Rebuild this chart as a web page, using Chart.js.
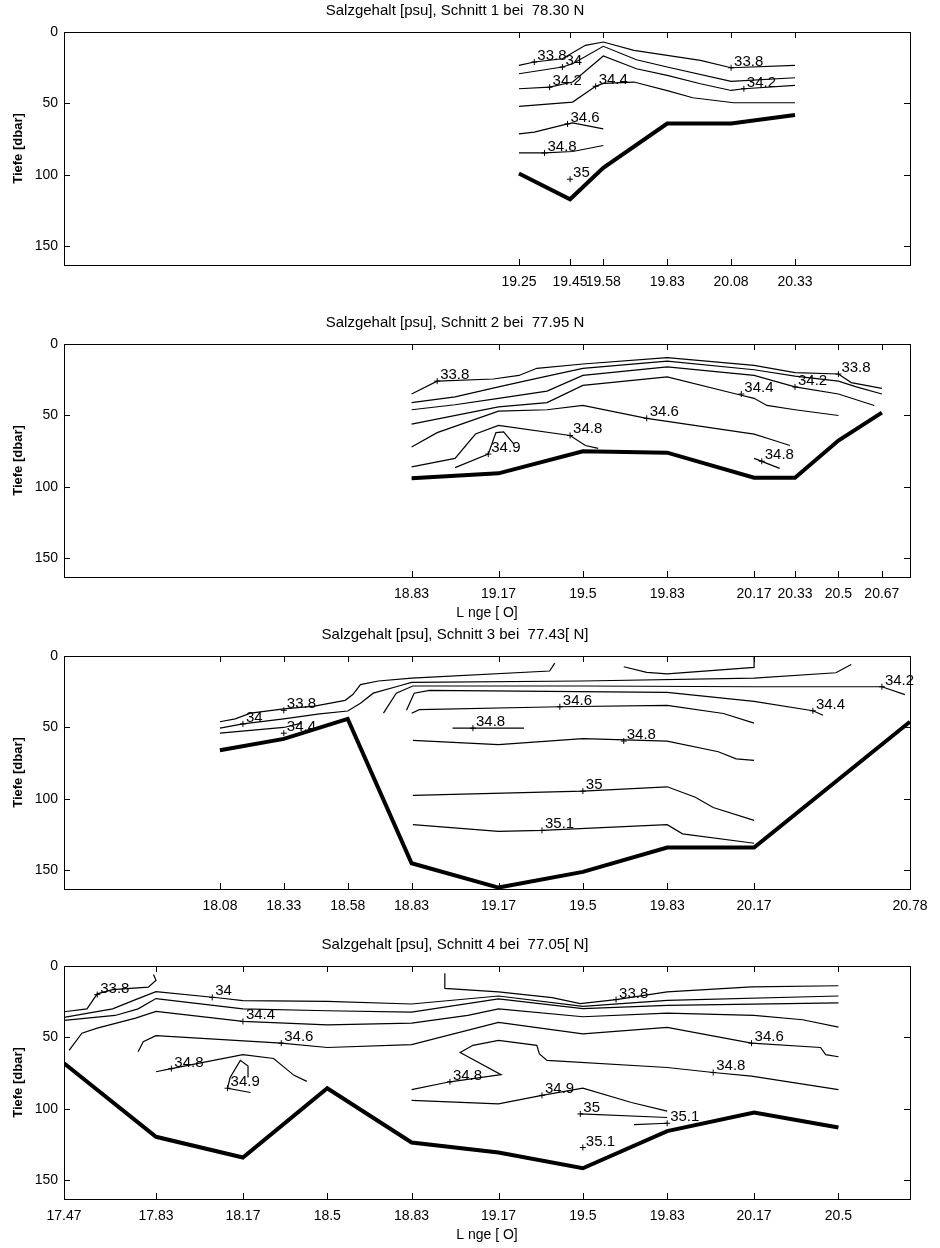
<!DOCTYPE html>
<html>
<head>
<meta charset="utf-8">
<script src="https://cdn.jsdelivr.net/npm/chart.js@4.4.1/dist/chart.umd.min.js"></script>
<style>
  body { margin: 0; background: #fff; }
  #wrap { position: relative; width: 940px; height: 1248px; }
  .panel { position: absolute; left: 0; width: 940px; height: 312px; }
</style>
</head>
<body>
<div id="wrap">
  <div class="panel" style="top:1px"><canvas id="c1"></canvas></div>
  <div class="panel" style="top:313px"><canvas id="c2"></canvas></div>
  <div class="panel" style="top:625px"><canvas id="c3"></canvas></div>
  <div class="panel" style="top:935px"><canvas id="c4"></canvas></div>
</div>
<script>
// shared axis ranges (longitude east, depth in dbar)
const lonMin = 17.47, lonMax = 20.78;
const depthMax = 163;
const depthTicks = [0, 50, 100, 150];

// --- Schnitt 1, 78.30 N ---
const s1Ticks = [19.25, 19.45, 19.58, 19.83, 20.08, 20.33];
const s1TickLabels = ['19.25', '19.45', '19.58', '19.83', '20.08', '20.33'];
const s1BottomLon = [19.25, 19.45, 19.58, 19.83, 20.08, 20.33];
const s1BottomDepth = [99, 117, 95, 64, 64, 58];
const s1Lines = [
  [[19.25, 23.4], [19.31, 21], [19.42, 18.7], [19.51, 9.3], [19.58, 7], [19.7, 12.9], [19.83, 16.4], [19.96, 19.9], [20.08, 25], [20.33, 23.4]],
  [[19.25, 29.2], [19.42, 24.5], [19.46, 22.2], [19.58, 10], [19.71, 19.4], [19.83, 24.5], [20.08, 34.6], [20.33, 32]],
  [[19.25, 39.7], [19.37, 38.6], [19.46, 35], [19.58, 16.8], [19.71, 25.7], [19.83, 30.4], [19.96, 36.2], [20.08, 40.9], [20.13, 39.7], [20.33, 37.4]],
  [[19.25, 52], [19.46, 49], [19.55, 38], [19.58, 36], [19.7, 35], [19.83, 41], [19.93, 46], [20.09, 49.5], [20.33, 49.5]],
  [[19.25, 71.3], [19.31, 70.1], [19.44, 64.3], [19.46, 63.6], [19.58, 67.8]],
  [[19.25, 84.6], [19.35, 84.6], [19.46, 83.6], [19.58, 79.4]]
];
const s1Labels = [
  [19.31, 21, '33.8'], [19.42, 24.5, '34'], [19.37, 38.6, '34.2'], [19.55, 38, '34.4'],
  [20.08, 25, '33.8'], [20.13, 39.7, '34.2'], [19.44, 64.3, '34.6'], [19.35, 84.6, '34.8'],
  [19.45, 103, '35']
];

// --- Schnitt 2, 77.95 N ---
const s2Ticks = [18.83, 19.17, 19.5, 19.83, 20.17, 20.33, 20.5, 20.67];
const s2TickLabels = ['18.83', '19.17', '19.5', '19.83', '20.17', '20.33', '20.5', '20.67'];
const s2BottomLon = [18.83, 19.17, 19.5, 19.83, 20.17, 20.33, 20.5, 20.67];
const s2BottomDepth = [94, 90.5, 75, 76, 93.5, 93.5, 67.5, 48];
const s2Lines = [
  [[18.83, 35], [18.93, 26], [19.15, 24.5], [19.25, 22], [19.32, 17], [19.5, 14], [19.83, 9.5], [20.17, 15], [20.33, 20], [20.5, 21], [20.55, 27], [20.67, 31]],
  [[18.83, 41], [19.0, 37], [19.17, 30], [19.32, 24], [19.5, 17], [19.83, 12], [20.17, 18], [20.33, 22.5], [20.5, 26], [20.57, 30], [20.67, 35]],
  [[18.83, 46], [19.0, 42.5], [19.17, 38], [19.36, 33], [19.5, 22], [19.83, 16], [20.17, 22], [20.33, 30], [20.5, 35], [20.64, 43]],
  [[18.83, 56], [19.17, 44], [19.36, 41], [19.5, 29], [19.83, 23], [20.1, 35], [20.17, 38], [20.22, 43], [20.33, 46], [20.5, 50]],
  [[18.83, 72], [18.93, 62], [19.17, 47], [19.36, 46], [19.5, 43], [19.75, 52], [20.17, 63], [20.24, 67], [20.31, 71]],
  [[18.83, 86], [19.0, 80], [19.08, 63], [19.17, 57], [19.45, 64], [19.51, 71], [19.56, 73]],
  [[19.0, 86.5], [19.13, 77], [19.16, 62], [19.19, 61.5], [19.23, 70]],
  [[20.17, 80], [20.27, 87]]
];
const s2Labels = [
  [18.93, 26, '33.8'], [20.5, 21, '33.8'], [20.33, 30, '34.2'], [20.12, 35, '34.4'],
  [19.75, 52, '34.6'], [19.45, 64, '34.8'], [19.13, 77, '34.9'], [20.2, 82, '34.8']
];

// --- Schnitt 3, 77.43 N ---
const s3Ticks = [18.08, 18.33, 18.58, 18.83, 19.17, 19.5, 19.83, 20.17, 20.78];
const s3TickLabels = ['18.08', '18.33', '18.58', '18.83', '19.17', '19.5', '19.83', '20.17', '20.78'];
const s3BottomLon = [18.08, 18.33, 18.58, 18.83, 19.17, 19.5, 19.83, 20.17, 20.78];
const s3BottomDepth = [66, 58, 44, 145, 162, 151, 134, 134, 46];
const s3Lines = [
  [[18.08, 46], [18.14, 44], [18.2, 40], [18.33, 37], [18.45, 35], [18.57, 31], [18.6, 27], [18.63, 20], [18.7, 17.5], [18.83, 15.5], [19.37, 10.5], [19.39, 5]],
  [[18.08, 50.5], [18.17, 47.5], [18.33, 44], [18.47, 40.5], [18.58, 38.5], [18.63, 33], [18.68, 26], [18.78, 21], [18.83, 18.5], [19.5, 17.5], [20.17, 15.5], [20.49, 11.7], [20.55, 6]],
  [[18.08, 54], [18.33, 50], [18.4, 47]],
  [[18.72, 40], [18.77, 26], [18.835, 21], [19.5, 21], [20.17, 21.5], [20.67, 21.5], [20.76, 27]],
  [[18.81, 38], [18.84, 26], [18.9, 24], [19.83, 25.5], [20.17, 31.7], [20.4, 38.3], [20.44, 41.5]],
  [[18.83, 40], [18.86, 37.5], [19.41, 35.5], [19.83, 34.5], [20.05, 40.2], [20.17, 47]],
  [[18.99, 50.5], [19.27, 50.5]],
  [[18.835, 59], [19.17, 62], [19.5, 57.8], [19.83, 59.5], [20.03, 67], [20.1, 72], [20.17, 73]],
  [[18.835, 97.5], [19.5, 94.5], [19.83, 91.5], [19.94, 98.8], [20.01, 106], [20.17, 115]],
  [[18.835, 118], [19.17, 122.7], [19.34, 122], [19.83, 118], [19.89, 124.4], [20.17, 131]],
  [[19.66, 7.5], [19.75, 11.5], [19.83, 12.5], [20.17, 8], [20.17, 0.5]]
];
const s3Labels = [
  [18.17, 47.5, '34'], [18.33, 38, '33.8'], [18.33, 54, '34.4'], [19.41, 35.5, '34.6'],
  [19.07, 50.5, '34.8'], [19.66, 59.5, '34.8'], [19.5, 94.5, '35'], [19.34, 122, '35.1'],
  [20.4, 38.3, '34.4'], [20.67, 21.5, '34.2']
];

// --- Schnitt 4, 77.05 N ---
const s4Ticks = [17.47, 17.83, 18.17, 18.5, 18.83, 19.17, 19.5, 19.83, 20.17, 20.5];
const s4TickLabels = ['17.47', '17.83', '18.17', '18.5', '18.83', '19.17', '19.5', '19.83', '20.17', '20.5'];
const s4BottomLon = [17.47, 17.83, 18.17, 18.5, 18.83, 19.17, 19.5, 19.83, 20.17, 20.5];
const s4BottomDepth = [68, 119.5, 134, 85.5, 123.5, 130.5, 141.5, 115.5, 102.5, 113];
const s4Lines = [
  [[17.47, 32], [17.56, 30], [17.6, 19.5], [17.66, 16.5], [17.8, 14.8], [17.83, 10], [17.82, 6]],
  [[18.96, 5], [18.96, 15.7], [19.17, 18.1], [19.38, 22.1], [19.49, 26.3], [19.63, 23.5], [19.83, 18.1], [20.16, 14.6], [20.5, 13.8]],
  [[17.47, 36], [17.66, 30], [17.75, 23.5], [17.83, 18], [18.08, 22.4], [18.17, 24.2], [18.5, 24.7], [18.83, 26.6], [19.17, 21], [19.5, 28.2], [19.83, 24], [20.5, 21]],
  [[17.47, 38], [17.67, 34.6], [17.76, 30], [17.83, 22.8], [18.17, 30], [18.5, 31.3], [18.83, 32.2], [19.17, 23], [19.5, 29.8], [19.83, 27.5], [20.5, 25.8]],
  [[17.49, 59], [17.54, 47], [17.6, 43.5], [17.75, 36.5], [17.83, 31.8], [18.17, 38.8], [18.5, 41.2], [18.83, 40], [19.05, 34.6], [19.17, 30], [19.5, 35.5], [19.83, 33], [20.17, 34.5], [20.36, 37.6], [20.5, 42.7]],
  [[17.76, 60], [17.78, 53], [17.83, 48.7], [18.32, 54], [18.5, 57], [18.83, 55], [19.17, 39.5], [19.5, 47.5], [19.83, 43], [20.16, 54], [20.43, 57], [20.45, 62], [20.5, 63.5]],
  [[17.83, 74], [17.89, 71.8], [18.17, 62], [18.29, 64.7], [18.37, 76.5], [18.42, 80.7]],
  [[18.2, 88.5], [18.11, 85.5], [18.12, 78], [18.16, 66], [18.19, 70], [18.19, 78]],
  [[18.83, 86.5], [18.98, 81], [19.18, 76], [19.02, 60.5], [19.07, 55.5], [19.17, 52], [19.32, 55.5], [19.33, 61.5], [19.36, 66], [19.83, 71], [20.01, 74.5], [20.16, 77], [20.5, 86.5]],
  [[18.83, 94], [19.17, 96.5], [19.34, 90.5], [19.5, 85.5], [19.69, 95.5], [19.83, 101.5]],
  [[19.49, 103.5], [19.83, 106]],
  [[19.7, 111], [19.83, 110]]
];
const s4Labels = [
  [17.6, 20, '33.8'], [18.05, 22, '34'], [18.17, 38.8, '34.4'], [18.32, 54, '34.6'],
  [17.89, 71.8, '34.8'], [18.11, 85.5, '34.9'], [18.98, 81, '34.8'], [19.34, 90.5, '34.9'],
  [19.49, 103.5, '35'], [19.83, 110, '35.1'], [19.5, 127, '35.1'], [19.63, 23.5, '33.8'],
  [20.16, 54, '34.6'], [20.01, 74.5, '34.8']
];

const FONT = '"Liberation Sans", Arial, sans-serif';

// box around the plot with inward ticks on all four sides
const framePlugin = {
  id: 'frame',
  afterDraw(chart) {
    const { ctx, chartArea: a, scales: { x, y } } = chart;
    const t = 6;
    ctx.save();
    ctx.strokeStyle = '#000';
    ctx.lineWidth = 1;
    ctx.strokeRect(a.left + 0.5, a.top + 0.5, a.right - a.left, a.bottom - a.top);
    ctx.beginPath();
    x.ticks.forEach(tk => {
      const px = Math.round(x.getPixelForValue(tk.value)) + 0.5;
      ctx.moveTo(px, a.top); ctx.lineTo(px, a.top + t);
      ctx.moveTo(px, a.bottom); ctx.lineTo(px, a.bottom - t);
    });
    y.ticks.forEach(tk => {
      const py = Math.round(y.getPixelForValue(tk.value)) + 0.5;
      ctx.moveTo(a.left, py); ctx.lineTo(a.left + t, py);
      ctx.moveTo(a.right, py); ctx.lineTo(a.right - t, py);
    });
    ctx.stroke();
    ctx.restore();
  }
};

// contour level labels: small "+" at the point, value written above right
const labelPlugin = {
  id: 'contourLabels',
  afterDatasetsDraw(chart, args, opts) {
    const { ctx, scales: { x, y } } = chart;
    ctx.save();
    ctx.font = '15px ' + FONT;
    ctx.fillStyle = '#000';
    ctx.strokeStyle = '#000';
    ctx.lineWidth = 1;
    ctx.textBaseline = 'alphabetic';
    (opts.items || []).forEach(([lon, dep, txt]) => {
      const px = x.getPixelForValue(lon), py = y.getPixelForValue(dep);
      ctx.beginPath();
      ctx.moveTo(px - 3, py); ctx.lineTo(px + 3, py);
      ctx.moveTo(px, py - 3); ctx.lineTo(px, py + 3);
      ctx.stroke();
      ctx.fillText(txt, px + 3, py - 2);
    });
    ctx.restore();
  }
};

function makeChart(id, title, ticks, tickLabels, bottomLon, bottomDepth, lines, labels, xTitle) {
  const datasets = lines.map(pts => ({
    data: pts.map(([x, y]) => ({ x, y })),
    borderColor: '#000',
    borderWidth: 1.2,
    pointRadius: 0,
    showLine: true,
    fill: false,
    tension: 0
  }));
  datasets.push({
    data: bottomLon.map((x, i) => ({ x, y: bottomDepth[i] })),
    borderColor: '#000',
    borderWidth: 4,
    pointRadius: 0,
    showLine: true,
    fill: false,
    tension: 0
  });

  return new Chart(document.getElementById(id), {
    type: 'scatter',
    data: { datasets },
    options: {
      responsive: true,
      maintainAspectRatio: false,
      animation: false,
      layout: { padding: { left: 0, right: 30, top: 0, bottom: 0 } },
      plugins: {
        legend: { display: false },
        tooltip: { enabled: false },
        title: {
          display: true,
          text: title,
          color: '#000',
          font: { family: FONT, size: 15, weight: 'normal' },
          padding: { top: 1, bottom: 12 }
        },
        contourLabels: { items: labels }
      },
      scales: {
        x: {
          type: 'linear',
          min: lonMin,
          max: lonMax,
          afterBuildTicks: scale => { scale.ticks = ticks.map(v => ({ value: v })); },
          afterFit: scale => { scale.height = 48; },
          grid: { display: false, drawTicks: false },
          border: { display: false },
          ticks: {
            autoSkip: false,
            maxRotation: 0,
            minRotation: 0,
            padding: 9,
            color: '#000',
            font: { family: FONT, size: 14 },
            callback: (v, i) => tickLabels[i]
          },
          title: {
            display: !!xTitle,
            text: xTitle || '',
            color: '#000',
            font: { family: FONT, size: 14 },
            padding: { top: 0, bottom: 3 }
          }
        },
        y: {
          type: 'linear',
          reverse: true,
          min: 0,
          max: depthMax,
          afterBuildTicks: scale => { scale.ticks = depthTicks.map(v => ({ value: v })); },
          afterFit: scale => { scale.width = 64; },
          grid: { display: false, drawTicks: false },
          border: { display: false },
          ticks: {
            padding: 6,
            color: '#000',
            font: { family: FONT, size: 14 }
          },
          title: {
            display: true,
            text: 'Tiefe [dbar]',
            color: '#000',
            font: { family: FONT, size: 13, weight: 'bold' },
            padding: { top: 11, bottom: 0 }
          }
        }
      }
    },
    plugins: [framePlugin, labelPlugin]
  });
}

makeChart('c1', 'Salzgehalt [psu], Schnitt 1 bei  78.30 N', s1Ticks, s1TickLabels, s1BottomLon, s1BottomDepth, s1Lines, s1Labels, null);
makeChart('c2', 'Salzgehalt [psu], Schnitt 2 bei  77.95 N', s2Ticks, s2TickLabels, s2BottomLon, s2BottomDepth, s2Lines, s2Labels, 'L nge [ O]');
makeChart('c3', 'Salzgehalt [psu], Schnitt 3 bei  77.43[ N]', s3Ticks, s3TickLabels, s3BottomLon, s3BottomDepth, s3Lines, s3Labels, null);
makeChart('c4', 'Salzgehalt [psu], Schnitt 4 bei  77.05[ N]', s4Ticks, s4TickLabels, s4BottomLon, s4BottomDepth, s4Lines, s4Labels, 'L nge [ O]');
</script>
</body>
</html>
